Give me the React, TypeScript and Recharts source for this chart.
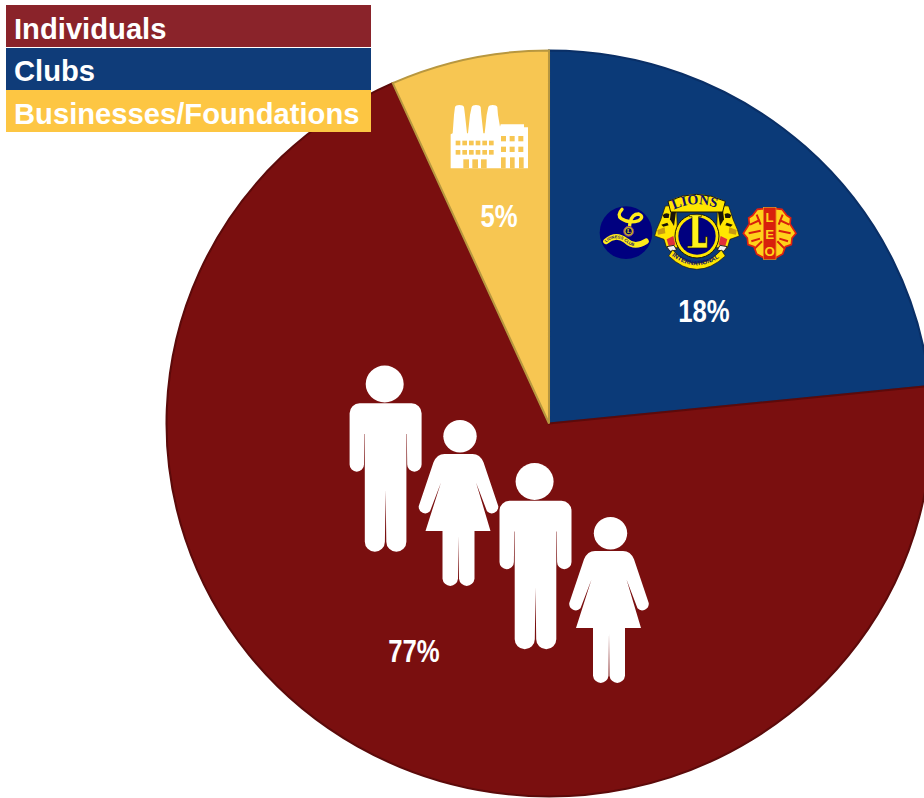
import { Cell, Legend, Pie, PieChart, Sector } from "recharts";

const sliceNames = ["Clubs", "Individuals", "Businesses/Foundations"];
// slice sizes as drawn in the picture (they do not follow the printed labels)
const sliceValues = [23.4, 69.9, 6.7];
const sliceLabels = ["18%", "77%", "5%"];
const legendNames = ["Individuals", "Clubs", "Businesses/Foundations"];

const sliceFills = ["#0B3A78", "#7A0F0F", "#F7C652"];
const sliceStrokes = ["#0A2F66", "#5C0A0A", "#B8973F"];
const legendFills: Record<string, string> = {
  Individuals: "#8A232A",
  Clubs: "#0F3C79",
  "Businesses/Foundations": "#FDC643",
};
const legendLineHeights = [49, 46, 48];
const labelAnchors = [
  { x: 704, y: 322 },
  { x: 414, y: 662 },
  { x: 499, y: 227 },
];

const CX = 549;
const CY = 423.5;
const STRETCH = 1.0254;

const chartData = sliceNames.map((name, i) => ({ name, value: sliceValues[i] }));

// the pie in the picture is a little wider than it is tall
function StretchedSector(props: any) {
  return (
    <g transform={`translate(${CX} 0) scale(${STRETCH} 1) translate(${-CX} 0)`}>
      <Sector {...props} />
    </g>
  );
}

function SliceLabel({ index }: any) {
  const at = labelAnchors[index];
  return (
    <text
      transform={`translate(${at.x} ${at.y}) scale(0.83 1)`}
      textAnchor="middle"
      fill="#fff"
      fontFamily="'Liberation Sans', sans-serif"
      fontWeight={700}
      fontSize={31}
    >
      {sliceLabels[index]}
    </text>
  );
}

function LegendRows() {
  return (
    <div>
      {legendNames.map((name, i) => (
        <div
          key={name}
          style={{
            height: 42,
            marginBottom: i === 0 ? 1 : 0,
            paddingLeft: 8,
            background: legendFills[name],
            color: "#fff",
            fontFamily: "'Liberation Sans', sans-serif",
            fontWeight: 700,
            fontSize: 29.2,
            lineHeight: `${legendLineHeights[i]}px`,
            whiteSpace: "nowrap",
            overflow: "hidden",
          }}
        >
          {name}
        </div>
      ))}
    </div>
  );
}

function Man({ x, y }: { x: number; y: number }) {
  return (
    <g transform={`translate(${x} ${y})`} fill="#fff">
      <ellipse cx={-0.9} cy={0} rx={19} ry={18.5} />
      <path d="M-26 19.3H26A10 10 0 0 1 36 29.3V80.5A7.2 7.2 0 0 1 21.6 80.5L21.2 50H20.8V157.7A10 10 0 0 1 0.7 157.7L0 106L-0.7 157.7A10 10 0 0 1 -20.8 157.7V50H-21.2L-21.6 80.5A7.2 7.2 0 0 1 -36 80.5V29.3A10 10 0 0 1 -26 19.3Z" />
    </g>
  );
}

function Woman({ x, y }: { x: number; y: number }) {
  return (
    <g transform={`translate(${x} ${y})`} fill="#fff">
      <ellipse cx={1.5} cy={0} rx={16.7} ry={16.3} />
      <path d="M-14 17.7H14Q21.5 17.7 25 26L39.8 70A6.6 6.6 0 0 1 28.5 75L17.6 46.4L32 94.7H16V142.5A7.8 8 0 0 1 0.5 142.5L0 100L-0.5 142.5A7.8 8 0 0 1 -16 142.5V94.7H-33L-17.6 46.4L-28.5 75A6.6 6.6 0 0 1 -39.8 70L-25 26Q-21.5 17.7 -14 17.7Z" />
    </g>
  );
}

const factoryWindowsX = [47, 67, 87, 107, 127, 147];
const factoryWindowsY = [137, 165];
const factorySideX = [183, 209, 235];
const factorySideY = [123, 155];
const factoryDoors = [
  [70, 193, 17, 27],
  [97, 193, 17, 27],
  [123, 193, 17, 27],
  [183, 187, 14, 33],
  [210, 187, 14, 33],
  [237, 187, 14, 33],
];

function Factory() {
  const gap = sliceFills[2];
  return (
    <g transform="translate(440 95) scale(0.3333)">
      <path
        fill="#fff"
        d="M32 220V118L38 115L42 60L45 36Q47 30 58 30Q70 30 72 36L75 60L81 115H84L90 60L95 36Q97 30 108 30Q120 30 122 36L124 60L130 115H134L140 60L145 36Q147 30 158 30Q170 30 172 36L174 60L180 95L182 88H252V97H264V220Z"
      />
      {factoryWindowsX.map((wx) =>
        factoryWindowsY.map((wy) => (
          <rect key={`${wx}-${wy}`} x={wx} y={wy} width={14} height={14} fill={gap} />
        ))
      )}
      {factorySideX.map((wx) =>
        factorySideY.map((wy) => (
          <rect key={`${wx}-${wy}`} x={wx} y={wy} width={15} height={16} fill={gap} />
        ))
      )}
      {factoryDoors.map(([dx, dy, w, h]) => (
        <rect key={dx} x={dx} y={dy} width={w} height={h} fill={gap} />
      ))}
    </g>
  );
}

function LionessLogo() {
  return (
    <g transform="translate(596 200) scale(0.3333)">
      <circle cx={90} cy={98} r={79} fill="#00007F" />
      <path
        d="M78 28Q62 45 76 56Q100 72 128 62Q146 50 128 42Q108 42 102 68L98 100"
        fill="none"
        stroke="#FFEB1A"
        strokeWidth={10}
        strokeLinecap="round"
      />
      <path
        d="M30 124Q60 98 90 122Q116 146 150 124"
        fill="none"
        stroke="#FFEB1A"
        strokeWidth={17}
        strokeLinecap="round"
      />
      <circle cx={98} cy={94} r={15} fill="#C8B020" stroke="#7A3A8A" strokeWidth={3} />
      <circle cx={98} cy={94} r={9} fill="#000060" />
      <text x={98} y={100} textAnchor="middle" fontSize={16} fontWeight={700} fill="#FFEB1A" fontFamily="Liberation Serif">
        L
      </text>
      <defs>
        <path id="lionessArc" d="M30 128Q60 102 90 126Q116 150 150 128" />
      </defs>
      <text fontFamily="Liberation Sans" fontWeight={700} fontSize={12.5} fill="#10106A">
        <textPath href="#lionessArc">LIONESS CLUB</textPath>
      </text>
    </g>
  );
}

function LionHead() {
  return (
    <g>
      <path d="M40 60Q60 56 74 76L78 185L44 186L36 160L8 150L14 130L26 102Z" fill="#FFE600" stroke="#1A1408" strokeWidth={2} />
      <path d="M58 64Q68 68 72 78L66 120L54 100Z" fill="#1A1408" />
      <path d="M32 88Q40 78 52 84L50 96L36 96Z" fill="#1A1408" />
      <path d="M16 132L38 124L40 142L18 146Z" fill="#C89A10" />
      <path d="M28 116L46 110L50 118L34 122Z" fill="#1A1408" />
      <path d="M44 160L64 150L70 176L50 180Z" fill="#E0303A" />
      <path d="M44 182L66 178L74 192L54 196Z" fill="#F2F2F2" stroke="#222" strokeWidth={3} />
    </g>
  );
}

function LionsLogo() {
  return (
    <g transform="translate(652 186) scale(0.3333)">
      <LionHead />
      <g transform="translate(270 0) scale(-1 1)">
        <LionHead />
      </g>
      <path d="M56 78L48 46Q134 4 220 46L212 78Z" fill="#FFE600" stroke="#1A1408" strokeWidth={3} />
      <path d="M62 192Q134 272 208 192L220 210Q134 290 50 210Z" fill="#FFE600" stroke="#1A1408" strokeWidth={2} />
      <circle cx={135} cy={150} r={66} fill="#FFE600" stroke="#1A1408" strokeWidth={3} />
      <circle cx={135} cy={150} r={56} fill="#00007F" />
      <defs>
        <path id="lionsArc" d="M60 74Q134 36 212 74" />
        <path id="intlArc" d="M58 208Q134 268 212 208" />
      </defs>
      <text fontFamily="Liberation Serif" fontWeight={700} fontSize={42} fill="#10106A">
        <textPath href="#lionsArc" startOffset="4%">
          LIONS
        </textPath>
      </text>
      <text fontFamily="Liberation Sans" fontWeight={700} fontSize={19} fill="#10106A">
        <textPath href="#intlArc" startOffset="1%">
          INTERNATIONAL
        </textPath>
      </text>
      <path
        d="M112 86H148V92H140V170H160V152H166V186H106V180H120V92H112Z"
        fill="#FFF21A"
        stroke="#1A1408"
        strokeWidth={2}
      />
    </g>
  );
}

function LeoHead() {
  return (
    <g>
      <path
        d="M72 26L52 28L38 46L26 54L28 72L10 100L22 114L24 134L42 140L50 162L72 174Z"
        fill="#FFD21A"
        stroke="#E02010"
        strokeWidth={5}
      />
      <path d="M30 74L60 60M26 100L62 92M34 124L60 116M50 44L62 74M44 146L66 124" stroke="#D8200C" strokeWidth={6} fill="none" />
    </g>
  );
}

function LeoLogo() {
  return (
    <g transform="translate(740 200) scale(0.3333)">
      <LeoHead />
      <g transform="translate(178 0) scale(-1 1)">
        <LeoHead />
      </g>
      <rect x={70} y={22} width={38} height={156} fill="#D8200C" stroke="#F0A020" strokeWidth={2} />
      {["L", "E", "O"].map((letter, i) => (
        <text
          key={letter}
          x={89}
          y={66 + i * 51}
          textAnchor="middle"
          fontFamily="Liberation Sans"
          fontWeight={700}
          fontSize={40}
          fill="#FFD21A"
        >
          {letter}
        </text>
      ))}
    </g>
  );
}

export default function App() {
  return (
    <div style={{ position: "absolute", left: 0, top: 0, width: 924, height: 798, overflow: "hidden" }}>
      <PieChart width={924} height={798} margin={{ top: 0, right: 0, bottom: 0, left: 0 }}>
        <Pie
          data={chartData}
          dataKey="value"
          nameKey="name"
          cx={CX}
          cy={CY}
          outerRadius={373}
          startAngle={90}
          endAngle={-270}
          strokeWidth={2}
          shape={StretchedSector}
          label={SliceLabel}
          labelLine={false}
          isAnimationActive={false}
        >
          {sliceNames.map((name, i) => (
            <Cell key={name} fill={sliceFills[i]} stroke={sliceStrokes[i]} />
          ))}
        </Pie>
        <Legend
          layout="vertical"
          verticalAlign="middle"
          align="center"
          content={<LegendRows />}
          wrapperStyle={{ left: 6, top: 5, width: 365 }}
        />
      </PieChart>
      <svg width={924} height={798} style={{ position: "absolute", left: 0, top: 0, pointerEvents: "none" }}>
        <Factory />
        <LionessLogo />
        <LionsLogo />
        <LeoLogo />
        <Man x={385.6} y={384} />
        <Woman x={458.5} y={436.3} />
        <Man x={535.5} y={481.5} />
        <Woman x={609} y={533.3} />
      </svg>
    </div>
  );
}
